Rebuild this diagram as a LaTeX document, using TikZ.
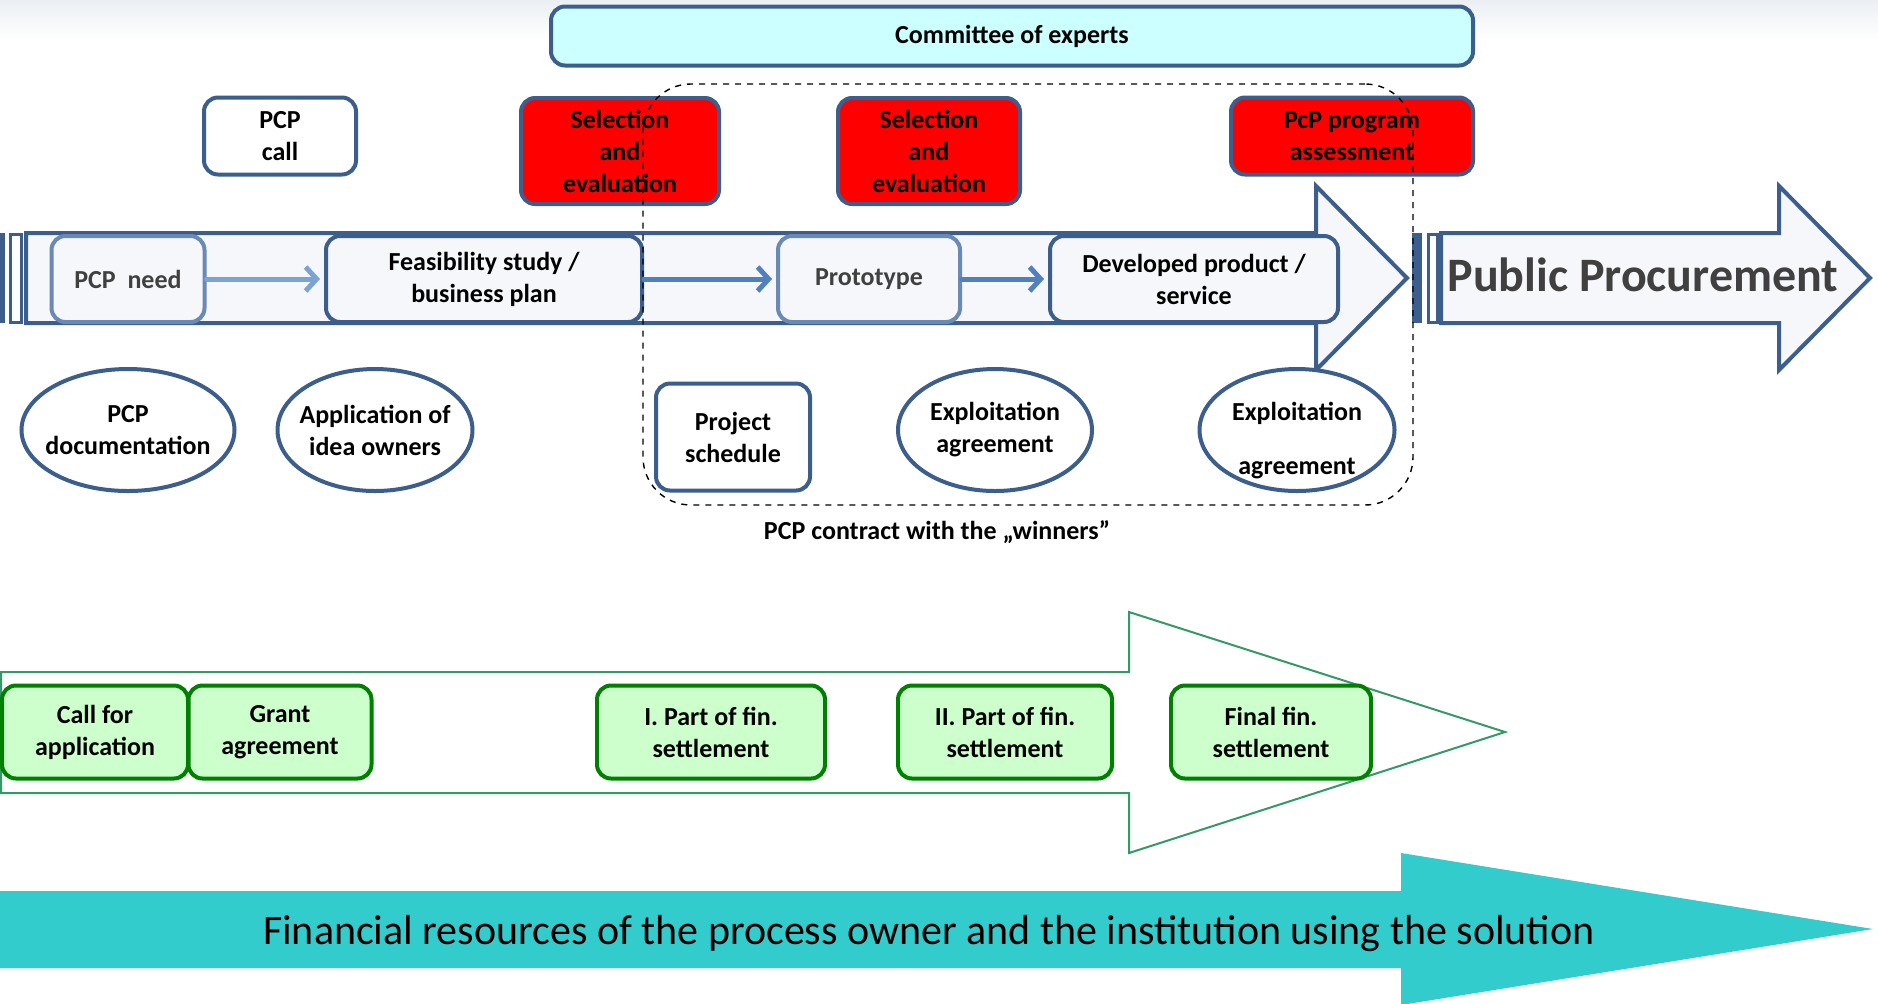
\documentclass[tikz,border=0pt]{standalone}
\usepackage{fontspec}
\setmainfont{Carlito}
\usetikzlibrary{arrows.meta}
\usetikzlibrary{shapes.geometric}
\usetikzlibrary{positioning}

\definecolor{pblue}{HTML}{3B5E8C}
\definecolor{plight}{HTML}{6A89B5}
\definecolor{pfill}{HTML}{F5F7FB}
\definecolor{pcyan}{HTML}{CCFFFF}
\definecolor{pgreen}{HTML}{008000}
\definecolor{pgfill}{HTML}{CCFFCC}
\definecolor{pline}{HTML}{339966}
\definecolor{pteal}{HTML}{33CCCC}
\definecolor{pgray}{HTML}{404040}
\definecolor{parrowa}{HTML}{7BA3D4}
\definecolor{parrowb}{HTML}{4F81BD}

\tikzset{
  lbl/.style={font=\fontsize{13}{16}\selectfont\bfseries, align=center, inner sep=0pt},
  bluebox/.style={lbl, draw=pblue, line width=2pt, rounded corners=7pt},
  redbox/.style={bluebox, fill=red},
  stagebox/.style={bluebox, fill=pfill},
  palestage/.style={stagebox, draw=plight, text=pgray},
  docoval/.style={lbl, draw=pblue, line width=2pt, ellipse, fill=white, inner sep=-6pt},
  finbox/.style={lbl, draw=pgreen, line width=2pt, rounded corners=7pt, fill=pgfill},
  barline/.style={draw=pblue, fill=pfill, line width=2pt},
  stagearrow/.style={line width=2.5pt, line cap=round, shorten >=2pt, -{Straight Barb[length=5.5pt,width=12pt]}}
}

\begin{document}
\begin{tikzpicture}[x=0.5pt,y=-0.5pt]
    \useasboundingbox (0,0) rectangle (1878,1003);
    \shade[top color=pblue!10, bottom color=white] (0,0) rectangle (1878,40);

    \fill[pblue] (0,233) rectangle (5,323);
    \draw[pblue, line width=1.5pt, fill=white] (10,234) rectangle (21,322);
    \draw[barline] (26,233) -- (1316,233) -- (1316,186) -- (1407,278) -- (1316,370) -- (1316,323) -- (26,323) -- cycle;

    \fill[pblue] (1412,233) rectangle (1422,323);
    \draw[pblue, line width=1.5pt, fill=white] (1428,234) rectangle (1437,322);
    \draw[barline] (1441,233) -- (1779,233) -- (1779,186) -- (1870,278) -- (1779,370) -- (1779,323) -- (1441,323) -- cycle;
    \node (pp) [font=\fontsize{24}{28}\selectfont\bfseries, text=pgray] at (1643,275) {Public Procurement};

    \node (committee) [bluebox, fill=pcyan, minimum width=461pt, minimum height=29.5pt] at (1012,36) {Committee of experts};
    \node (call) [bluebox, fill=white, minimum width=76pt, minimum height=38.5pt] at (280,136) {PCP\\call};
    \node (sel1) [redbox, minimum width=99pt, minimum height=53pt] at (620,151) {Selection\\and\\evaluation};
    \node (sel2) [redbox, minimum width=91pt, minimum height=53pt] at (929,151) {Selection\\and\\evaluation};
    \node (assess) [redbox, minimum width=121pt, minimum height=38.5pt] at (1352,136) {PcP program\\assessment};

    \node (need) [palestage, minimum width=76.5pt, minimum height=43pt] at (128,279) {PCP\ \ need};
    \node (feas) [stagebox, minimum width=158pt, minimum height=43pt] at (484,279) {Feasibility study /\\business plan};
    \node (proto) [palestage, minimum width=91pt, minimum height=43pt] at (869,279) {Prototype};
    \node (product) [stagebox, minimum width=144pt, minimum height=43pt] at (1194,279) {Developed product /\\service};
    \path (need) edge[stagearrow, parrowa] (feas);
    \path (feas) edge[stagearrow, parrowb] (proto);
    \path (proto) edge[stagearrow, parrowb] (product);

    \node (doc) [docoval, minimum width=106.5pt, minimum height=61pt] at (128,430) {PCP\\documentation};
    \node (apply) [docoval, minimum width=97.5pt, minimum height=61pt] at (375,430) {Application of\\idea owners};
    \node (schedule) [bluebox, fill=white, minimum width=77pt, minimum height=53.5pt] at (733,437) {Project\\schedule};
    \node (expl1) [docoval, minimum width=97pt, minimum height=61pt] at (995,430) {Exploitation\\agreement};
    \node (expl2) [docoval, minimum width=97.5pt, minimum height=61pt] at (1297,430) {};
    \node (expl2txt) [lbl] at (1297,441) {Exploitation\\[11pt]agreement};

    \node (contract) [draw, dashed, line width=0.7pt, rounded corners=24pt, minimum width=385pt, minimum height=210.5pt] at (1028,294.5) {};
    \node (contractlbl) [lbl] at (937,532) {PCP contract with the „winners”};

    \draw[pline, line width=1pt] (1,672) -- (1129,672) -- (1129,612) -- (1505,732) -- (1129,853) -- (1129,793) -- (1,793) -- cycle;
    \node (callfor) [finbox, minimum width=93pt, minimum height=46.5pt] at (95,732) {Call for\\application};
    \node (grant) [finbox, minimum width=91.5pt, minimum height=46.5pt] at (280,732) {Grant\\agreement};
    \node (part1) [finbox, minimum width=114pt, minimum height=46.5pt] at (711,732) {I. Part of fin.\\settlement};
    \node (part2) [finbox, minimum width=107pt, minimum height=46.5pt] at (1005,732) {II. Part of fin.\\settlement};
    \node (final) [finbox, minimum width=100pt, minimum height=46.5pt] at (1271,732) {Final fin.\\settlement};

    \fill[pteal] (0,891) -- (1401,891) -- (1401,853) -- (1873,929) -- (1401,1005) -- (1401,968) -- (0,968) -- cycle;
    \node (funds) [font=\fontsize{21}{25}\selectfont] at (929,934) {Financial resources of the process owner and the institution using the solution};
\end{tikzpicture}
\end{document}
